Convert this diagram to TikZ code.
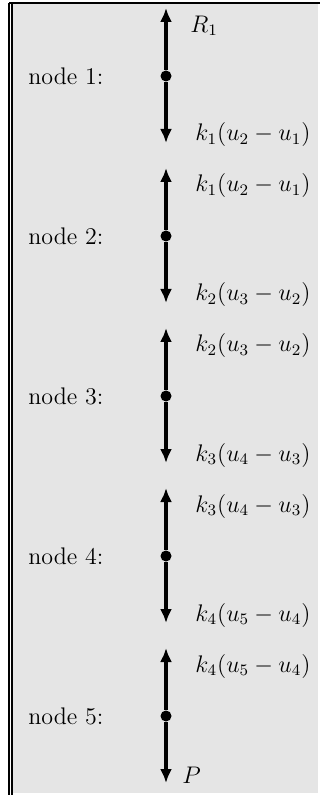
\documentclass[tikz,border=0pt,12pt]{standalone}
\usetikzlibrary{arrows.meta}
\tikzset{
  force/.style={-{Latex[length=7pt,width=6pt]}, line width=1.8pt, black},
  joint/.style={circle, fill=black, inner sep=0pt, minimum size=5.5pt},
  nodename/.style={anchor=west, inner sep=0pt},
  loadlabel/.style={anchor=west, inner sep=0pt},
  panel/.style={fill=black!10, draw=none}
}
\begin{document}
\begin{tikzpicture}[x=0.5pt,y=-0.5pt]
  \useasboundingbox (0,0) rectangle (320,795);
  \fill[panel] (12,4) rectangle (318,793);
  \draw[line width=1.2pt] (9,3) -- (320,3);
  \draw[line width=0.6pt] (9,3) -- (9,795);
  \draw[line width=0.6pt] (12,4) -- (12,795);
  \foreach \i/\up/\ux/\down/\dx in {1/{R_1}/190/{k_1(u_2-u_1)}/195,
      2/{k_1(u_2-u_1)}/195/{k_2(u_3-u_2)}/195,
      3/{k_2(u_3-u_2)}/195/{k_3(u_4-u_3)}/195,
      4/{k_3(u_4-u_3)}/195/{k_4(u_5-u_4)}/195,
      5/{k_4(u_5-u_4)}/195/P/182} {
    \pgfmathsetmacro\yy{76+160*(\i-1)}
    \node[joint] (j\i) at (166,\yy) {};
    \node[nodename] (name\i) at (28,\yy) {node \i:};
    \coordinate (top\i) at (166,\yy-68);
    \coordinate (bot\i) at (166,\yy+67);
    \draw[force] (j\i) -- (top\i);
    \draw[force] (j\i) -- (bot\i);
    \node[loadlabel] (up\i) at (\ux,\yy-50) {$\up$};
    \node[loadlabel] (down\i) at (\dx,\yy+59) {$\down$};
  }
\end{tikzpicture}
\end{document}
